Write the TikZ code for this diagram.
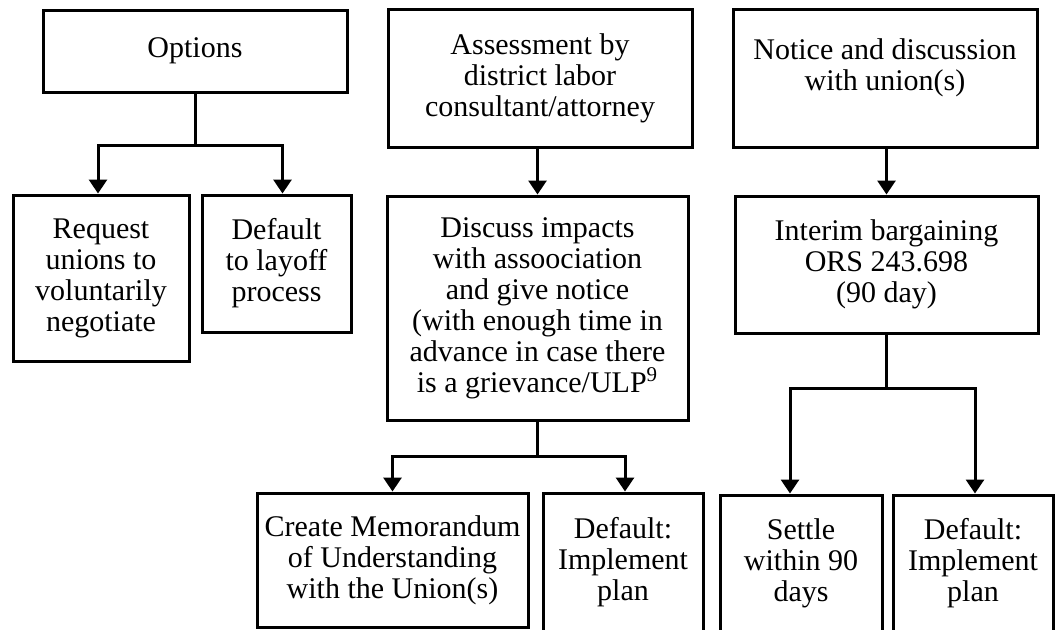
\documentclass[tikz,border=0pt]{standalone}
\usepackage{fontspec}
\setmainfont{Liberation Serif}
\usetikzlibrary{arrows.meta}

\tikzset{
  box/.style={draw, line width=1.5pt, align=center, inner sep=0pt,
    font=\fontsize{15}{15.5}\selectfont},
  link/.style={line width=1.5pt},
  arrow/.style={link, -{Triangle[length=7pt,width=9pt]}},
}

\begin{document}
\begin{tikzpicture}[x=0.5pt, y=-0.5pt]
  \clip (0,0) rectangle (1055,629);

  %%%%% LEFT %%%%%
  \node[box, minimum width=152pt, minimum height=41pt] (opt) at (195,51) {Options};
  \node[box, minimum width=88pt, minimum height=83pt] (req) at (101,278)
    {Request\\unions to\\voluntarily\\negotiate};
  \node[box, minimum width=74.5pt, minimum height=68.5pt] (lay) at (276.5,263.5)
    {Default\\to layoff\\process};

  \draw[link] (opt.south) -- (opt.south |- 0,145) coordinate (optfork);
  \draw[arrow] (optfork) -| ([xshift=-1.5pt]req.north);
  \draw[arrow] (optfork) -| ([xshift=3pt]lay.north);

  %%%%% MIDDLE %%%%%
  \node[box, minimum width=152pt, minimum height=69pt] (ass) at (540,78)
    {Assessment by\\district labor\\consultant/attorney};
  \node[box, minimum width=150.5pt, minimum height=112pt] (dis) at (537.5,308)
    {Discuss impacts\\with assoociation\\and give notice\\(with enough time in\\advance in case there\\is a grievance/ULP\textsuperscript{9}};
  \node[box, minimum width=135.5pt, minimum height=67pt] (mou) at (392.5,560)
    {Create Memorandum\\of Understanding\\with the Union(s)};
  \node[box, minimum width=80pt, minimum height=69.5pt] (defm) at (623,562.5)
    {Default:\\Implement\\plan};

  \draw[arrow] (dis.north |- ass.south) -- (dis.north);
  \draw[link] (dis.south) -- (dis.south |- 0,456) coordinate (disfork);
  \draw[arrow] (disfork) -| (mou.north);
  \draw[arrow] (disfork) -| ([xshift=1pt]defm.north);

  %%%%% RIGHT %%%%%
  \node[box, minimum width=152pt, minimum height=69pt, text depth=13.7pt] (ntc) at (885,78)
    {Notice and discussion\\with union(s)};
  \node[box, minimum width=151.5pt, minimum height=68.5pt] (int) at (886.5,264.5)
    {Interim bargaining\\ORS 243.698\\(90 day)};
  \node[box, minimum width=81pt, minimum height=68.5pt] (stl) at (801,563.5)
    {Settle\\within 90\\days};
  \node[box, minimum width=80pt, minimum height=68.5pt] (defr) at (973,563.5)
    {Default:\\Implement\\plan};

  \draw[arrow] (int.north |- ntc.south) -- (int.north);
  \draw[link] (int.south) -- (int.south |- 0,388) coordinate (intfork);
  \draw[arrow] (intfork) -| ([xshift=-5.5pt]stl.north);
  \draw[arrow] (intfork) -| ([xshift=1pt]defr.north);
\end{tikzpicture}
\end{document}
